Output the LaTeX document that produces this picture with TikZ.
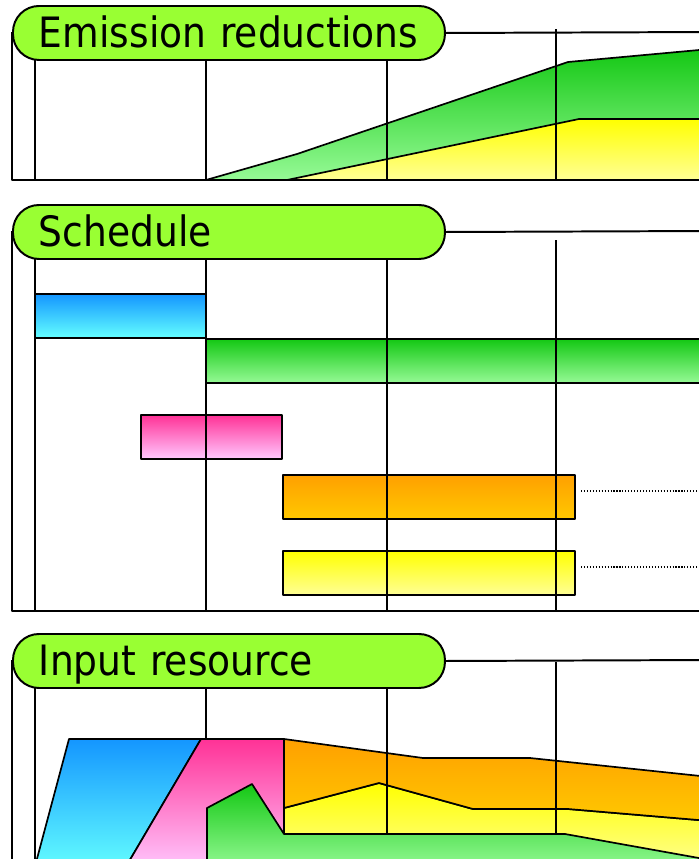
\documentclass[tikz,border=0pt]{standalone}
\usepackage{fontspec}
\setsansfont{DejaVu Sans Condensed}
\usetikzlibrary{positioning}
\definecolor{pilllime}{RGB}{153,255,51}
\definecolor{grTop}{RGB}{20,200,20}
\definecolor{grBot}{RGB}{150,250,150}
\definecolor{ylTop}{RGB}{255,255,0}
\definecolor{ylBot}{RGB}{255,255,150}
\definecolor{blTop}{RGB}{20,150,255}
\definecolor{blBot}{RGB}{100,255,255}
\definecolor{pkTop}{RGB}{255,50,150}
\definecolor{pkBot}{RGB}{255,200,255}
\definecolor{orTop}{RGB}{255,160,0}
\definecolor{orBot}{RGB}{255,200,0}
\begin{document}
\begin{tikzpicture}[x=0.05cm,y=-0.05cm,line join=round,
 frame/.style={line width=2.8pt},
 area/.style={draw,line width=2.4pt},
 dots/.style={line width=1.8pt,dash pattern=on 1.6pt off 2.6pt},
 pill/.style={draw,line width=2.8pt,fill=pilllime,rounded corners=1.3cm,
  anchor=north west,minimum height=2.7cm,text width=19cm,inner xsep=1.3cm,
  inner ysep=.5cm,align=left,text height=1.5cm,text depth=0pt,
  font=\sffamily\fontsize{59.5}{61}\selectfont}]
\useasboundingbox (0,0) rectangle (699,859);
\clip (0,0) rectangle (699,859);
% --- Emission reductions ---
\draw[frame] (12,32) -- (12,180) -- (710,180);
\draw[area,top color=grTop,bottom color=grBot]
 (206,180) -- (297,154) -- (568,62) -- (710,49) -- (710,180) -- cycle;
\draw[area,top color=ylTop,bottom color=ylBot]
 (287,180) -- (579,119) -- (710,119) -- (710,180) -- cycle;
\foreach \gx in {35,206,387} \draw[frame] (\gx,45) -- (\gx,180);
\draw[frame] (556,29) -- (556,180);
\node[pill] (emTitle) at (12,5) {Emission reductions};
\coordinate (emEnd) at (710,32);
\draw[frame] (emTitle.east) -- (emEnd);
% --- Schedule ---
\draw[frame] (12,231) -- (12,611) -- (710,611);
\draw[area,top color=blTop,bottom color=blBot] (35,294) rectangle (206,338);
\draw[area,top color=grTop,bottom color=grBot] (206,339) rectangle (710,383);
\draw[area,top color=pkTop,bottom color=pkBot] (141,415) rectangle (282,459);
\draw[area,top color=orTop,bottom color=orBot] (283,475) rectangle (575,519);
\draw[area,top color=ylTop,bottom color=ylBot] (283,551) rectangle (575,595);
\foreach \gx in {35,206,387} \draw[frame] (\gx,245) -- (\gx,611);
\draw[frame] (556,240) -- (556,611);
\coordinate (orDots) at (581,491);
\coordinate (ylDots) at (581,567);
\draw[dots] (orDots) -- (710,491);
\draw[dots] (ylDots) -- (710,567);
\node[pill] (schTitle) at (12,204) {Schedule};
\coordinate (schEnd) at (710,231);
\draw[frame] (schTitle.east) -- (schEnd);
% --- Input resource ---
\draw[frame] (12,660) -- (12,870);
\foreach \gx in {35,206} \draw[frame] (\gx,680) -- (\gx,870);
\draw[area,top color=blTop,bottom color=blBot]
 (69,739) -- (201,739) -- (124,870) -- (34,870) -- cycle;
\draw[area,top color=pkTop,bottom color=pkBot]
 (201,739) -- (284,739) -- (284,870) -- (124,870) -- cycle;
\draw[area,top color=ylTop,bottom color=ylBot]
 (284,808) -- (379,783) -- (473,809) -- (568,809) -- (710,821)
 -- (710,870) -- (284,870) -- cycle;
\draw[area,top color=orTop,bottom color=orBot]
 (284,739) -- (423,758) -- (530,758) -- (710,777) -- (710,821)
 -- (568,809) -- (473,809) -- (379,783) -- (284,808) -- cycle;
\draw[area,top color=grTop,bottom color=grBot]
 (207,870) -- (207,808) -- (252,784) -- (284,834) -- (565,834)
 -- (710,860) -- (710,870) -- cycle;
\draw[frame] (387,680) -- (387,834);
\draw[frame] (556,662) -- (556,834);
\node[pill] (resTitle) at (12,633) {Input resource};
\coordinate (resEnd) at (710,660);
\draw[frame] (resTitle.east) -- (resEnd);
\end{tikzpicture}
\end{document}
